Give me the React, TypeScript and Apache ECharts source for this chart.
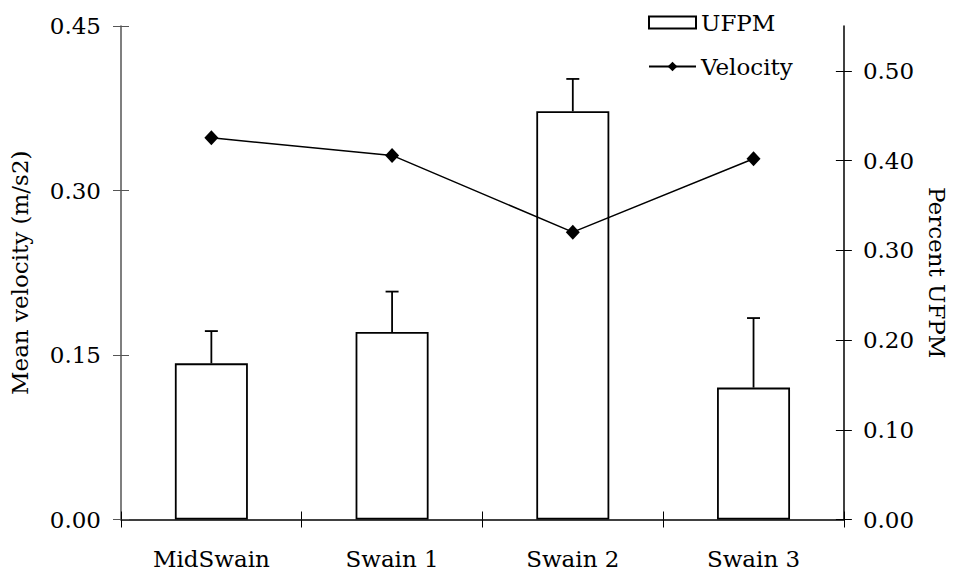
import React, { useEffect, useRef } from "react";
import * as echarts from "echarts";

const categories = ["MidSwain", "Swain 1", "Swain 2", "Swain 3"];
const ufpm = [0.174, 0.209, 0.455, 0.147];
const ufpmUpper = [0.21, 0.254, 0.491, 0.2245];
const velocity = [0.348, 0.332, 0.262, 0.329];
const leftTicks = [0, 0.15, 0.3, 0.45];
const rightTicks = [0, 0.1, 0.2, 0.3, 0.4, 0.5];

const FONT = "DejaVu Serif";
const FS = 23;

export default function App() {
  const ref = useRef<HTMLDivElement>(null);
  useEffect(() => {
    if (!ref.current) return;
    const chart = echarts.init(ref.current, null, { renderer: "svg" });
    const errData = categories.map((_, i) => [i, ufpm[i], ufpmUpper[i]]);
    const fmt = (v: number) => v.toFixed(2);
    const baseY = (pos: string, max: number, color: string) => ({
      type: "value",
      position: pos,
      min: 0,
      max,
      splitLine: { show: false },
      axisLine: { show: true, lineStyle: { color, width: 1.5 } },
    });
    chart.setOption({
      animation: false,
      textStyle: { fontFamily: FONT },
      grid: { left: 117, right: 105, top: 26, bottom: 56.5 },
      legend: {
        orient: "vertical",
        left: 643,
        top: 6,
        itemWidth: 47,
        itemHeight: 12,
        itemGap: 21,
        textStyle: { fontFamily: FONT, fontSize: FS, color: "#000" },
        data: [
          { name: "UFPM", icon: "rect" },
          { name: "Velocity" },
        ],
      },
      xAxis: [
        {
          type: "category",
          data: categories,
          axisLine: { lineStyle: { color: "#000", width: 1.5 } },
          axisTick: { show: true, length: 8, lineStyle: { color: "#000", width: 1 } },
          axisLabel: { fontFamily: FONT, fontSize: FS, color: "#000", margin: 28 },
        },
        {
          type: "category",
          data: categories,
          position: "bottom",
          axisLine: { show: false },
          axisTick: { show: true, inside: true, length: 8, lineStyle: { color: "#000", width: 1 } },
          axisLabel: { show: false },
        },
      ],
      yAxis: [
        {
          ...baseY("left", 0.45, "#555"),
          name: "Mean velocity (m/s2)",
          nameLocation: "middle",
          nameRotate: 90,
          nameGap: 90,
          nameTextStyle: { fontFamily: FONT, fontSize: FS, color: "#000" },
          axisTick: { show: true, length: 8, customValues: leftTicks, lineStyle: { color: "#555" } },
          axisLabel: { customValues: leftTicks, formatter: fmt, fontFamily: FONT, fontSize: FS, color: "#000", margin: 20 },
        },
        {
          ...baseY("right", 0.55, "#000"),
          name: "Percent UFPM",
          nameLocation: "middle",
          nameRotate: -90,
          nameGap: 80,
          nameTextStyle: { fontFamily: FONT, fontSize: FS, color: "#000" },
          axisTick: { show: true, length: 8, customValues: rightTicks, lineStyle: { color: "#000" } },
          axisLabel: { customValues: rightTicks, formatter: fmt, fontFamily: FONT, fontSize: FS, color: "#000", margin: 19 },
        },
        {
          ...baseY("left", 0.45, "#555"),
          axisLine: { show: false },
          axisTick: { show: true, inside: true, length: 8, customValues: leftTicks, lineStyle: { color: "#555" } },
          axisLabel: { show: false },
        },
        {
          ...baseY("right", 0.55, "#000"),
          axisLine: { show: false },
          axisTick: { show: true, inside: true, length: 8, customValues: rightTicks, lineStyle: { color: "#000" } },
          axisLabel: { show: false },
        },
      ],
      series: [
        {
          name: "UFPM",
          type: "bar",
          yAxisIndex: 1,
          barWidth: 73,
          data: ufpm,
          itemStyle: { color: "#fff", borderColor: "#000", borderWidth: 1.8 },
          z: 2,
        },
        {
          name: "UFPM-err",
          type: "custom",
          yAxisIndex: 1,
          data: errData,
          z: 3,
          renderItem: (params: any, api: any) => {
            const i = api.value(0);
            const lo = api.coord([i, api.value(1)]);
            const hi = api.coord([i, api.value(2)]);
            const half = 6.5;
            const st = { stroke: "#000", lineWidth: 1.8 };
            return {
              type: "group",
              children: [
                { type: "line", shape: { x1: lo[0], y1: lo[1], x2: hi[0], y2: hi[1] }, style: st },
                { type: "line", shape: { x1: hi[0] - half, y1: hi[1], x2: hi[0] + half, y2: hi[1] }, style: st },
              ],
            };
          },
        },
        {
          name: "Velocity",
          type: "line",
          yAxisIndex: 0,
          data: velocity,
          symbol: "diamond",
          symbolSize: [14, 15],
          lineStyle: { color: "#000", width: 1.5 },
          itemStyle: { color: "#000" },
          z: 4,
        },
      ],
    });
    return () => chart.dispose();
  }, []);
  return <div ref={ref} style={{ width: 956, height: 576, position: "absolute", left: 0, top: 0 }} />;
}
